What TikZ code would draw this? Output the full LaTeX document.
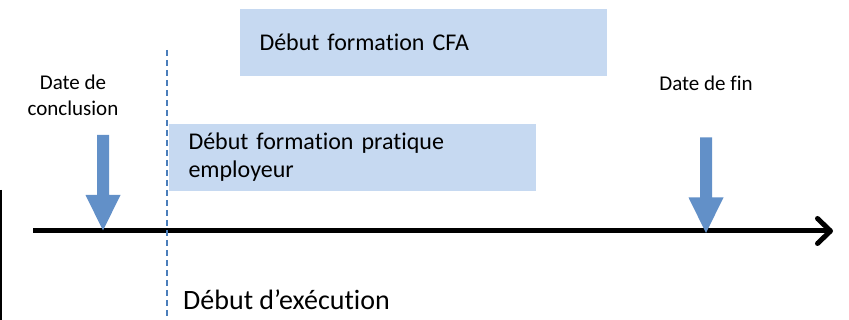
\documentclass[tikz,border=0pt]{standalone}
\usepackage{fontspec}
\setmainfont{Carlito}[Ligatures=NoCommon]
\usetikzlibrary{positioning,arrows.meta}
\definecolor{boxblue}{HTML}{C6D9F1}
\definecolor{arrowblue}{HTML}{6290C8}
\definecolor{dashblue}{HTML}{4A7EBB}

\begin{document}
\begin{tikzpicture}[
      x=1pt, y=-1pt,
      phase/.style={fill=boxblue,minimum width=367pt,minimum height=67pt,text width=328pt,inner xsep=19.5pt,align=left,font=\fontsize{24}{28}\selectfont},
      datelabel/.style={align=center,inner sep=0pt,font=\fontsize{21}{25.5}\selectfont},
      timeaxis/.style={line width=5pt,-{Straight Barb[length=13pt,width=25pt,line cap=round,round]}},
      execline/.style={dashblue,line width=2pt,dash pattern=on 6.5pt off 3.5pt},
      blockarrow/.pic={\fill[arrowblue] (-6,-95.5) -- (6,-95.5) -- (6,-35.5) -- (17.5,-35.5) -- (0,0) -- (-17.5,-35.5) -- (-6,-35.5) -- cycle;},
    ]
    \useasboundingbox (0,0) rectangle (849,320);

    % Phases
    \node[phase] (cfa) at (423.5,42.5) {Début formation CFA};
    \node[phase] (pratique) at (352.5,157.5) {Début formation pratique\\employeur};

    % Timeline
    \coordinate (axstart) at (33,231);
    \coordinate (axend) at (833,231);
    \draw[timeaxis] (axstart) -- (axend);
    \draw[line width=1.5pt] (1,190) -- (1,320);

    % Dates
    \coordinate (conclusion) at (103,230.5);
    \coordinate (fin) at (706,233);
    \pic at (conclusion) {blockarrow};
    \pic at (fin) {blockarrow};
    \node[datelabel] (lblconcl) at (73,95.5) {Date de\\conclusion};
    \node[datelabel] (lblfin) at (706,83) {Date de fin};

    % Execution
    \coordinate (exectop) at (166.5,50);
    \coordinate (execbot) at (166.5,320);
    \draw[execline] (exectop) -- (execbot);
    \node[anchor=west,inner sep=0pt,font=\fontsize{28}{33}\selectfont] (execlbl) at (183,300) {Début d’exécution};
  \end{tikzpicture}
\end{document}
